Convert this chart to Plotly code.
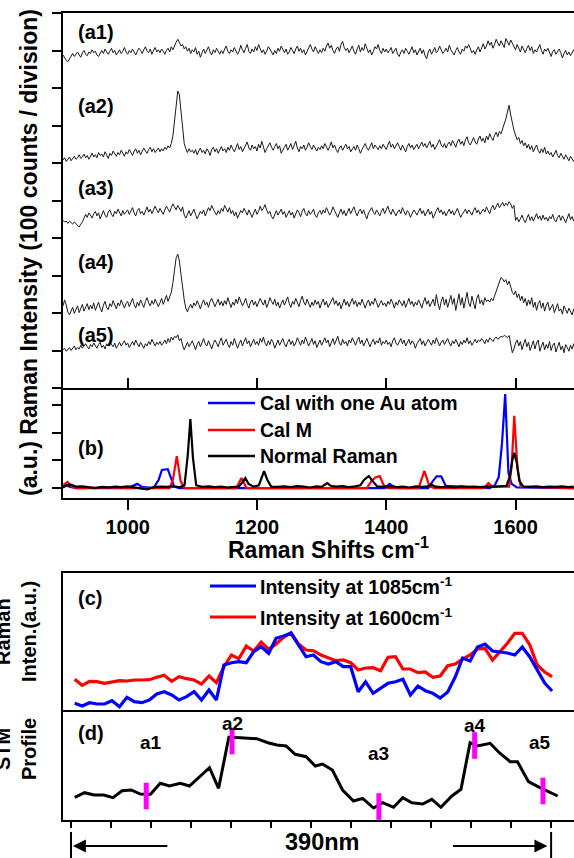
import plotly.graph_objects as go

W, H = 574, 858
FONT = "Liberation Sans, Arial, sans-serif"

# ---------------- DATA ----------------
# Panel (a): measured spectra, counts relative to each trace's own baseline,
# sampled every 2.5 cm-1 starting at 900 cm-1 (20 samples per row = 50 cm-1)
SHIFT_START, SHIFT_STEP = 900, 2.5

a1 = [2, -6, -12, -16, -8, 0, 6, -2, 4, 10, 2, -4, 8, 14, 4, 0, 10, 6, 16, 8,
      12, 2, -2, 8, 14, 6, 18, 10, 4, 12, 20, 8, 14, 2, 10, 16, 6, 12, 22, 10,
      4, 14, 8, 18, 10, 2, 12, 20, 14, 6, 16, 24, 12, 8, 18, 4, 14, 22, 10, 16,
      8, 18, 12, 4, 14, 20, 10, 24, 16, 28, 36, 44, 34, 26, 30, 18, 24, 12, 20, 6,
      16, 10, 22, 4, 12, -4, 8, 18, 6, 14, 24, 10, 2, 16, 8, 20, 12, 4, 14, 6,
      18, 26, 12, 6, 16, 10, 22, 14, 4, 12, 28, 16, 8, 20, 30, 12, 6, 18, 10, 24,
      14, 30, 20, 8, 16, 4, 12, 24, 18, 10, 2, 14, 6, 20, 12, 26, 16, 8, 18, 4,
      10, 22, 14, 6, 18, 26, 12, 20, 8, 16, 2, 12, 22, 30, 18, 10, 24, 14, 6, 16,
      8, 20, 12, 26, 34, 20, 28, 14, 6, 18, 24, 12, 30, 38, 22, 14, 20, 8, 16, 26,
      12, 4, 18, 28, 10, 22, 14, 32, 20, 8, 16, 2, 12, 24, 18, 30, 14, 6, 20, 10,
      18, 8, 14, 22, 6, 12, 20, 4, -2, 10, 16, 6, 20, 12, 4, 14, 24, 8, 16, 2,
      12, 20, 6, 16, 0, -8, 10, 18, 4, 12, 22, 8, 14, 26, 16, 6, 12, 20, 10, 28,
      16, 8, 2, 14, 22, 10, 4, 18, 12, 26, 20, 30, 16, 8, 14, 4, 16, 24, 10, 20,
      32, 18, 26, 40, 28, 36, 20, 30, 44, 34, 26, 40, 30, 22, 46, 36, 28, 42, 32, 24,
      16, 30, 22, 10, 26, 18, 8, 20, 28, 14, 24, 6, 16, 10, 22, 30, 14, 4, 18, 12,
      20, 6, -2, 12, 16, 4, 10, 18, 8, -6, 6, 14, 2, 10, 0, 8, 16, 4, 12, 2]

a2 = [-24, -18, -28, -22, -16, -26, -20, -14, -22, -18, -10, -20, -16, -8, -18, -12, -22, -14, -6, -16,
      -10, -18, -4, -12, -8, -16, -2, -10, -20, -6, -12, 0, -8, -14, -4, -10, 2, -6, -14, -2,
      -8, 4, -4, -12, 0, 6, -6, 2, -10, -2, 8, 0, -6, 4, 10, -2, 6, -4, 2, 8,
      -2, 6, 0, 10, 4, 14, 8, 20, 40, 80, 130, 160, 150, 100, 50, 20, 6, -4, 6, -2,
      2, -6, 4, -10, 0, 8, -4, 2, -8, 6, 0, -12, 4, 10, -2, 6, -6, 2, 12, 0,
      6, -4, 10, 2, 16, 6, -2, 8, 20, 4, 12, -2, 6, 14, 24, 8, 2, 16, 6, 12,
      0, 18, 8, 26, 12, -4, 6, 14, 22, 10, 2, 12, 20, 6, 14, -6, 4, 10, 18, 2,
      10, 20, 4, 14, 26, 8, -2, 12, 6, 16, 2, 10, 22, 12, 4, 16, 8, 0, 10, 4,
      14, 6, 20, 10, 2, 12, 24, 8, 16, 4, -4, 8, 14, 2, 10, 18, 6, 12, -2, 6,
      12, 2, 16, 6, -6, 4, 14, 20, 8, 2, 12, 22, 6, 16, 10, 4, 14, 6, 18, 12,
      4, 16, 26, 10, 18, 6, 14, 22, 12, 2, 16, 8, -2, 12, 20, 8, 16, 4, 10, 18,
      6, 14, 24, 12, 20, 8, 16, 26, 10, 18, 4, 14, 22, 30, 16, 10, 20, 8, 18, 24,
      14, 28, 20, 10, 24, 32, 18, 26, 14, 30, 38, 22, 16, 28, 36, 24, 18, 32, 40, 26,
      34, 22, 40, 30, 46, 36, 28, 42, 50, 38, 52, 46, 58, 70, 86, 104, 122, 96, 70, 56,
      42, 30, 36, 20, 28, 14, 22, 8, 18, 4, 14, -2, 8, 16, 2, -6, 6, -4, 10, -8,
      0, -10, -4, -16, -8, 2, -12, -18, -6, -14, -22, -10, -18, -26, -14, -20, -28, -16, -24, -30]

a3 = [-10, -14, -12, -18, -12, -16, -20, -14, -18, -24, -28, -20, -14, -4, 6, -2, 10, 4, -4, 8,
      14, 2, 10, -6, 6, 16, 4, -2, 12, 18, 6, 0, 14, 8, 20, 10, 2, 16, 6, 12,
      18, 6, 14, 24, 10, 2, 16, 22, 8, 14, 4, 18, 26, 12, 20, 8, 16, 28, 18, 10,
      22, 14, 6, 18, 28, 20, 12, 24, 34, 26, 18, 30, 22, 14, 26, 4, -4, 8, 16, 2,
      12, 20, 6, -6, 4, 14, 8, 18, 2, 12, 24, 16, 30, 20, 10, 4, 16, 8, 22, 14,
      30, 20, 12, 24, 8, 16, 2, 12, -4, 6, 16, 10, 22, 14, 4, 18, 8, -2, 10, 20,
      6, 14, 28, 16, 22, 32, 18, 8, 14, 0, -6, 8, 16, 4, 12, 20, 6, 14, -2, 8,
      16, 4, 12, -4, 6, 18, 10, 0, 14, 22, 8, 2, 16, 6, 12, 20, 4, -2, 10, 16,
      6, 18, 10, 24, 14, 4, 12, 26, 16, 8, -2, 10, 20, 6, 16, 2, 12, 22, 8, 18,
      26, 12, 2, 14, 20, 8, 18, 4, -6, 10, 16, 24, 12, 6, 18, 10, 2, 14, 22, 8,
      16, 28, 14, 6, 20, 10, 2, 12, 18, 8, 24, 14, 4, 16, 10, -2, 8, 18, 12, 4,
      14, 22, 8, 16, 2, 10, 20, 6, 14, -4, 8, 16, 24, 10, 18, 6, 14, 2, 12, 20,
      8, 16, 4, 12, 22, 10, -2, 6, 14, 20, 8, 18, 12, 4, 16, 24, 10, 18, 6, 14,
      20, 12, 26, 16, 8, 22, 30, 18, 26, 36, 24, 32, 38, 28, 36, 30, 40, 34, 22, 30,
      -10, -2, -14, -6, 4, -8, -16, -4, 6, -10, 0, -12, -4, 8, -6, 2, -10, 4, -8, -2,
      -12, 0, -6, 6, -8, -14, -2, 4, -10, 2, -6, -16, -4, 8, -8, 0, -12, 2, -6, 4]

a4 = [8, 24, 10, -8, -16, -6, 4, -12, -4, 8, -10, 2, 12, -6, 4, 14, -2, 10, 0, 16,
      -4, 8, 18, 2, -8, 10, 20, 4, -2, 14, 6, 22, 10, 0, 16, 8, 24, 12, 2, 14,
      20, 6, 16, 28, 12, 2, 18, 8, 24, 14, 4, 20, 30, 16, 8, 22, 12, 26, 18, 6,
      16, 28, 12, 24, 36, 20, 30, 44, 70, 100, 136, 146, 128, 92, 54, 24, 2, -8, 4, 12,
      2, 16, 8, 22, 12, 0, 14, 24, 10, 18, 4, 20, 28, 14, 6, 16, 26, 10, 20, 8,
      22, 12, 30, 16, 4, 18, 10, 26, 14, 32, 20, 8, 16, 28, 12, 2, 18, 24, 10, 20,
      6, 16, 28, 18, 10, 24, 4, 14, 30, 20, 12, 26, 8, 18, 2, 14, 24, 10, 20, 32,
      14, 4, 20, 12, 28, 16, 6, 22, 34, 18, 10, 26, 14, 4, 18, 8, 24, 12, 20, 2,
      16, 26, 10, 20, 4, 14, 24, 30, 12, 22, 8, 18, 0, 14, 26, 10, 20, 6, 16, 28,
      12, 22, 6, 18, 10, 26, 14, 2, 16, 24, 8, 20, 12, 28, 18, 4, 14, 22, 10, 16,
      6, 20, 12, 26, 16, 2, 18, 10, 24, 14, 8, 22, 4, 16, 28, 12, 20, 6, 18, 10,
      24, 14, 2, 18, 30, 12, 22, 6, 16, 26, 8, 38, 14, -2, 20, 32, 10, 26, 4, 18,
      36, 12, 28, -4, 20, 40, 10, 30, 2, 24, 44, 16, 6, 34, 18, 0, 28, 38, 14, 24,
      10, 30, 20, 24, 18, 28, 22, 34, 48, 62, 76, 84, 80, 72, 78, 64, 74, 56, 44, 38,
      48, 30, 40, 22, 34, 16, 28, 8, 24, 12, 30, 4, 18, -4, 14, 22, 2, 16, -6, 10,
      18, -4, 6, 12, -10, 4, 14, -6, 0, -14, 8, -2, -12, 2, -8, -16, 0, -10, -4, -14]

a5 = [-6, -2, -10, -4, 0, -8, -2, 4, -6, 0, -4, 6, -2, 4, 10, 2, -4, 8, 2, 12,
      4, -2, 8, 14, 0, 6, -4, 10, 4, 16, 8, 2, 12, -2, 6, 14, 4, 10, 18, 6,
      12, 0, 8, 16, 6, 20, 10, 2, 14, 6, -2, 10, 4, 16, 8, 22, 12, 4, 14, 8,
      16, 6, 12, 20, 10, 24, 14, 28, 20, 30, 26, 34, 18, 24, 6, -6, 4, 14, 2, 10,
      18, 6, -6, 8, 16, 2, 12, 24, 10, 4, 18, 8, -4, 10, 20, 12, 2, 16, 26, 6,
      14, 22, 8, 0, 16, 6, 24, 12, -2, 10, 20, 4, 14, 26, 10, 18, 2, 12, 22, 8,
      16, 6, 24, 14, 28, 12, 4, 18, 8, 22, 14, -2, 10, 20, 6, 16, 24, 10, 2, 14,
      22, 8, 18, 4, 12, 26, 14, 6, 20, 10, 28, 16, 4, 14, 24, 8, 18, 0, 12, 20,
      6, 16, 26, 12, 20, 2, 14, 24, 8, 18, 30, 12, 6, 22, 10, 16, 4, 20, 12, 26,
      14, 6, 18, 28, 10, 20, 4, 16, 24, 12, 2, 14, 22, 8, 18, 12, 26, 6, 16, 10,
      20, 8, 14, 2, 18, 26, 12, 6, 16, 24, 10, 20, 4, 14, 22, 8, 18, 12, -2, 10,
      16, 24, 8, 18, 4, 12, 22, 14, 6, 20, 10, 26, 16, 4, 14, 20, 8, 16, 24, 12,
      4, 18, 10, 22, 14, 2, 16, 8, 20, 12, 26, 10, 18, 6, 14, 22, 12, 20, 16, 24,
      18, 10, 22, 14, 26, 20, 16, 24, 28, 22, 26, 30, 28, 32, 30, 26, 32, 8, -14, -4,
      12, 20, 4, 16, -6, 10, 22, 2, 14, -8, 6, 18, -4, 12, 20, -10, 4, 14, -6, 8,
      -2, 16, -8, 6, 12, -12, 2, 14, -6, 4, -14, 8, 0, -10, 6, -4, 10, -8, 2, -6]

spectra_names = ["a1", "a2", "a3", "a4", "a5"]
spectra = [a1, a2, a3, a4, a5]
baselines = [886, 632, 457, 211, 108]   # vertical stacking offsets, counts

# Panel (b): calculated / normal Raman spectra (a.u.)
au_x = [900, 905, 910, 920, 1000, 1008, 1015, 1022, 1040, 1048, 1053, 1062, 1066,
        1072, 1080, 1398, 1405, 1411, 1418, 1465, 1472, 1478, 1485, 1492, 1560,
        1568, 1574, 1579, 1584, 1589, 1594, 1602, 1690]
au_y = [0.05, 0.10, 0.05, 0.0, 0.0, 0.08, 0.15, 0.04, 0.0, 0.30, 0.65, 0.68, 0.40,
        0.05, 0.0, 0.0, 0.15, 0.06, 0.0, 0.0, 0.25, 0.42, 0.42, 0.08, 0.0,
        0.10, 0.40, 1.60, 3.39, 0.55, 0.15, 0.02, 0.0]

m_x = [900, 907, 914, 920, 980, 1000, 1065, 1070, 1076, 1082, 1088, 1168, 1176,
       1184, 1370, 1377, 1383, 1390, 1396, 1402, 1450, 1459, 1467, 1475, 1552,
       1558, 1564, 1590, 1594, 1598, 1603, 1608, 1690]
m_y = [0.10, 0.22, 0.05, 0.0, 0.02, 0.0, 0.0, 0.30, 1.15, 0.25, 0.0, 0.0, 0.36,
       0.0, 0.0, 0.25, 0.38, 0.43, 0.10, 0.0, 0.0, 0.62, 0.05, 0.0, 0.0,
       0.18, 0.05, 0.05, 0.80, 2.61, 0.70, 0.05, 0.0]

nr_x = [900, 905, 912, 920, 930, 940, 950, 960, 970, 980, 990, 1000, 1010, 1020,
        1030, 1040, 1050, 1060, 1070, 1080, 1088, 1093, 1097, 1101, 1106, 1115,
        1125, 1135, 1145, 1155, 1165, 1172, 1177, 1182, 1187, 1195, 1203, 1207,
        1211, 1216, 1222, 1232, 1242, 1252, 1262, 1272, 1282, 1292, 1300, 1305,
        1309, 1314, 1322, 1332, 1342, 1352, 1360, 1366, 1373, 1379, 1386, 1396,
        1406, 1416, 1426, 1436, 1446, 1456, 1464, 1470, 1476, 1486, 1496, 1506,
        1516, 1526, 1536, 1546, 1556, 1566, 1576, 1586, 1591, 1595, 1598, 1602,
        1606, 1612, 1622, 1632, 1642, 1652, 1662, 1672, 1682, 1690]
nr_y = [0.02, 0.10, 0.12, 0.05, 0.06, 0.02, 0.00, 0.04, 0.02, 0.05, 0.03, 0.06,
        0.02, 0.00, -0.05, 0.03, 0.05, 0.04, 0.06, 0.03, 0.10, 1.20, 2.49, 1.10,
        0.10, 0.04, 0.06, 0.03, 0.05, 0.02, 0.04, 0.05, 0.20, 0.36, 0.15, 0.05,
        0.10, 0.40, 0.61, 0.30, 0.05, 0.04, 0.06, 0.03, 0.07, 0.05, 0.02, 0.06,
        0.04, 0.12, 0.18, 0.08, 0.05, 0.07, 0.03, 0.06, 0.10, 0.30, 0.43, 0.25,
        0.06, 0.04, 0.07, 0.03, 0.05, 0.02, 0.06, 0.04, 0.06, 0.12, 0.05, 0.03,
        0.05, 0.02, 0.06, 0.04, 0.05, 0.03, 0.06, 0.04, 0.05, 0.08, 0.40, 1.00,
        1.27, 0.90, 0.25, 0.05, 0.04, 0.06, 0.03, 0.05, 0.04, 0.06, 0.03, 0.05]

# Panel (c): intensity maps along the line scan (position in nm)
scan_x = [3.0, 9.1, 15.1, 21.2, 27.2, 33.3, 39.4, 45.4, 51.5, 57.5, 63.6, 69.7,
          75.7, 81.8, 87.8, 93.9, 100.0, 106.0, 112.1, 118.1, 124.2, 130.3,
          136.3, 142.4, 148.4, 154.5, 160.6, 166.6, 172.7, 178.7, 184.8, 190.9,
          196.9, 203.0, 209.0, 215.1, 221.2, 227.2, 233.3, 239.3, 245.4, 251.5,
          257.5, 263.6, 269.6, 275.7, 281.8, 287.8, 293.9, 299.9, 306.0, 312.1,
          318.1, 324.2, 330.2, 336.3, 342.4, 348.4, 354.5, 360.5, 366.6, 372.7,
          378.7, 384.8, 390.8]
int_1085 = [6.7, 4.0, 7.3, 6.0, 6.0, 9.3, 3.3, 12.7, 8.3, 7.3, 10.0, 16.0, 18.3,
            15.0, 10.0, 13.3, 18.3, 10.0, 20.0, 10.0, 45.0, 47.3, 48.3, 47.3, 58.3,
            63.3, 56.7, 71.7, 74.0, 76.7, 65.0, 53.3, 55.0, 48.3, 46.0, 48.3, 43.3,
            43.3, 18.3, 28.3, 16.7, 21.7, 26.7, 28.3, 30.7, 15.0, 24.0, 19.3, 16.7,
            12.0, 18.0, 33.0, 52.0, 49.0, 63.0, 66.0, 59.0, 58.0, 57.0, 55.0, 63.0,
            53.0, 40.0, 27.0, 19.0]
int_1600 = [30.7, 24.7, 28.7, 28.3, 26.7, 28.0, 29.3, 29.0, 30.0, 30.0, 30.3, 32.7,
            34.7, 28.7, 33.3, 31.3, 30.0, 26.0, 34.0, 27.3, 43.3, 55.0, 51.3, 64.0,
            59.0, 68.0, 60.7, 66.0, 72.7, 77.3, 66.0, 60.0, 59.3, 55.0, 52.3, 49.3,
            50.0, 47.3, 40.0, 42.0, 42.3, 39.3, 52.7, 53.3, 41.0, 41.0, 37.3, 38.0,
            32.7, 34.0, 44.3, 46.0, 51.0, 55.0, 61.0, 61.7, 50.0, 58.3, 66.7, 76.7,
            76.7, 65.0, 45.0, 38.0, 33.3]

# Panel (d): STM height profile
stm_x = [3.0, 11.0, 18.7, 26.6, 34.1, 41.5, 48.9, 56.3, 64.6, 72.5, 79.9, 88.8,
         96.2, 104.5, 112.5, 119.9, 128.2, 137.7, 151.0, 159.9, 167.3, 174.7,
         182.1, 191.0, 198.4, 204.3, 212.3, 220.6, 229.5, 236.9, 245.8, 253.2,
         262.0, 269.5, 276.9, 285.7, 293.1, 300.5, 309.4, 316.8, 324.2, 330.2,
         340.5, 347.9, 356.8, 362.7, 371.6, 380.5, 389.4, 395.3]
stm_h = [22.7, 27.3, 25.0, 25.0, 22.3, 29.3, 30.0, 26.0, 25.7, 36.7, 34.0, 36.7,
         34.0, 43.3, 52.3, 31.7, 82.7, 82.3, 81.3, 77.3, 75.0, 74.0, 65.7, 63.3,
         54.0, 56.0, 50.0, 30.0, 19.0, 21.7, 12.0, 17.3, 12.7, 22.3, 17.3, 16.0,
         20.7, 12.7, 24.0, 30.7, 77.3, 74.0, 76.7, 67.3, 58.3, 58.3, 38.3, 32.7,
         27.3, 24.0]

spot_names = ["a1", "a2", "a3", "a4", "a5"]
spot_x = [61.1, 130.8, 250.1, 327.9, 383.4]
spot_h = [24.0, 79.0, 13.5, 74.5, 29.0]
label_x = [65.0, 131.5, 249.6, 327.8, 381.0]
label_h = [78.0, 97.0, 67.0, 95.0, 78.0]

shift_ticks = [1000, 1200, 1400, 1600]
scan_ticks = [0, 32.5, 65, 97.5, 130, 162.5, 195, 227.5, 260, 292.5, 325, 357.5, 390]

# ---------------- LAYOUT HELPERS ----------------
def fx(p):
    return p / W


def fy(p):
    return 1 - p / H


X0 = fx(63)
dom_a = [fy(388), fy(13)]
dom_b = [fy(498), fy(388)]
dom_c = [fy(710), fy(573)]
dom_d = [fy(820), fy(710)]
shift_range = [900, 1690.4]
scan_range = [-6.5, 408.6]

fig = go.Figure()

for name, vals, base in zip(spectra_names, spectra, baselines):
    xs = [SHIFT_START + SHIFT_STEP * i for i in range(len(vals))]
    fig.add_trace(go.Scatter(x=xs, y=[(v + base) / 100 for v in vals], mode="lines",
                             line=dict(color="#1a1a1a", width=1), name=name,
                             xaxis="x", yaxis="y"))

for xs, ys, col, nm in [(au_x, au_y, "#0000ff", "Cal with one Au atom"),
                        (m_x, m_y, "#ff0000", "Cal M"),
                        (nr_x, nr_y, "#000000", "Normal Raman")]:
    fig.add_trace(go.Scatter(x=xs, y=ys, mode="lines", line=dict(color=col, width=2.2),
                             name=nm, xaxis="x2", yaxis="y2"))

fig.add_trace(go.Scatter(x=scan_x, y=int_1600, mode="lines", line=dict(color="#ff0000", width=3.2),
                         name="Intensity at 1600", xaxis="x3", yaxis="y3"))
fig.add_trace(go.Scatter(x=scan_x, y=int_1085, mode="lines", line=dict(color="#0000ff", width=3.2),
                         name="Intensity at 1085", xaxis="x3", yaxis="y3"))

fig.add_trace(go.Scatter(x=stm_x, y=stm_h, mode="lines", line=dict(color="#000000", width=3),
                         name="STM", xaxis="x4", yaxis="y4"))
fig.add_trace(go.Scatter(x=spot_x, y=spot_h, mode="markers", name="spots",
                         marker=dict(symbol="line-ns", size=19, color="#ff00ff",
                                     line=dict(width=5, color="#ff00ff")),
                         xaxis="x4", yaxis="y4"))

base_axis = dict(showgrid=False, zeroline=False, showline=True, linecolor="black",
                 linewidth=2, tickcolor="black", tickwidth=2, automargin=False)
tickfont = dict(family=FONT, size=20, color="black", weight="bold")

fig.update_layout(
    width=W, height=H, margin=dict(l=0, r=0, t=0, b=0),
    paper_bgcolor="white", plot_bgcolor="white", showlegend=False,
    font=dict(family=FONT, color="black"),
    xaxis=dict(base_axis, domain=[X0, 1], range=shift_range, anchor="y", mirror=True,
               tickvals=shift_ticks, ticks="inside", ticklen=10, showticklabels=False),
    yaxis=dict(base_axis, domain=dom_a, range=[0, 10], anchor="x",
               tickvals=list(range(11)), ticks="outside", ticklen=9, showticklabels=False),
    xaxis2=dict(base_axis, domain=[X0, 1], range=shift_range, anchor="y2",
                tickvals=shift_ticks, ticktext=[str(t) for t in shift_ticks],
                ticks="outside", ticklen=10, tickfont=tickfont),
    yaxis2=dict(base_axis, domain=dom_b, range=[-0.36, 3.61], anchor="x2",
                tickvals=[0, 1, 2, 3], ticks="outside", ticklen=9, showticklabels=False),
    xaxis3=dict(base_axis, domain=[X0, 1], range=scan_range, anchor="y3", mirror=True,
                ticks="", showticklabels=False),
    yaxis3=dict(base_axis, domain=dom_c, range=[0, 137], anchor="x3",
                ticks="", showticklabels=False),
    xaxis4=dict(base_axis, domain=[X0, 1], range=scan_range, anchor="y4",
                tickvals=scan_ticks, ticks="outside", ticklen=6, showticklabels=False),
    yaxis4=dict(base_axis, domain=dom_d, range=[0, 110], anchor="x4",
                ticks="", showticklabels=False),
)


def note(text, x, y, size=20, xanchor="center", angle=0):
    fig.add_annotation(text=text, x=fx(x), y=fy(y), xref="paper", yref="paper",
                       showarrow=False, xanchor=xanchor, yanchor="middle", textangle=angle,
                       font=dict(family=FONT, size=size, color="black"))


# axis titles
note("<b>(a.u.) Raman Intensity (100 counts / division)</b>", 29, 253, size=23, angle=-90)
note("<b>Raman Shifts cm<sup>-1</sup></b>", 328, 548, size=23)
note("<b>Raman</b>", 3, 632, size=20, angle=-90)
note("<b>Inten.(a.u.)</b>", 29, 632, size=20, angle=-90)
note("<b>STM</b>", 3, 749, size=20, angle=-90)
note("<b>Profile</b>", 29, 749, size=20, angle=-90)

# panel labels
for t, yy in [("(a1)", 32), ("(a2)", 106), ("(a3)", 188), ("(a4)", 262), ("(a5)", 335),
              ("(b)", 448), ("(c)", 598), ("(d)", 733)]:
    note("<b>%s</b>" % t, 76, yy, size=20, xanchor="left")

# spot labels on the STM profile
for s, lx, lh in zip(spot_names, label_x, label_h):
    fig.add_annotation(text="<b>%s</b>" % s, x=lx, y=lh, xref="x4", yref="y4",
                       showarrow=False, xanchor="center", yanchor="middle",
                       font=dict(family=FONT, size=19, color="black"))

# manual legends (line sample + label)
shapes = []
for col, label, yy in [("#0000ff", "Cal with one Au atom", 403),
                       ("#ff0000", "Cal M", 430),
                       ("#000000", "Normal Raman", 456)]:
    shapes.append(dict(type="line", xref="paper", yref="paper", x0=fx(208), x1=fx(255),
                       y0=fy(yy), y1=fy(yy), line=dict(color=col, width=2.5)))
    note("<b>%s</b>" % label, 258, yy, size=19.5, xanchor="left")

for col, label, yy in [("#0000ff", "Intensity at 1085cm<sup>-1</sup>", 586),
                       ("#ff0000", "Intensity at 1600cm<sup>-1</sup>", 617)]:
    shapes.append(dict(type="line", xref="paper", yref="paper", x0=fx(210), x1=fx(256),
                       y0=fy(yy), y1=fy(yy), line=dict(color=col, width=3)))
    note("<b>%s</b>" % label, 258, yy, size=19.5, xanchor="left")

# 390 nm scale bar below panel (d)
for xv in [scan_ticks[0], scan_ticks[-1]]:
    shapes.append(dict(type="line", xref="x4", yref="paper", x0=xv, x1=xv,
                       y0=fy(832), y1=fy(862), line=dict(color="black", width=2)))
fig.update_layout(shapes=shapes)

fig.add_annotation(x=1.5, y=fy(846), xref="x4", yref="paper", ax=96, ay=0,
                   axref="pixel", ayref="pixel", text="", showarrow=True,
                   arrowhead=2, arrowsize=1.3, arrowwidth=2, arrowcolor="black")
fig.add_annotation(x=387, y=fy(846), xref="x4", yref="paper", ax=-96, ay=0,
                   axref="pixel", ayref="pixel", text="", showarrow=True,
                   arrowhead=2, arrowsize=1.3, arrowwidth=2, arrowcolor="black")
note("<b>390nm</b>", 322, 842, size=23.5)

# remove the browser's default 8px page margin so the figure sits at (0, 0)
fig.write_html("out.html",
               config={"displayModeBar": False, "staticPlot": True},
               post_script="document.body.style.margin='0';document.body.style.padding='0';")
